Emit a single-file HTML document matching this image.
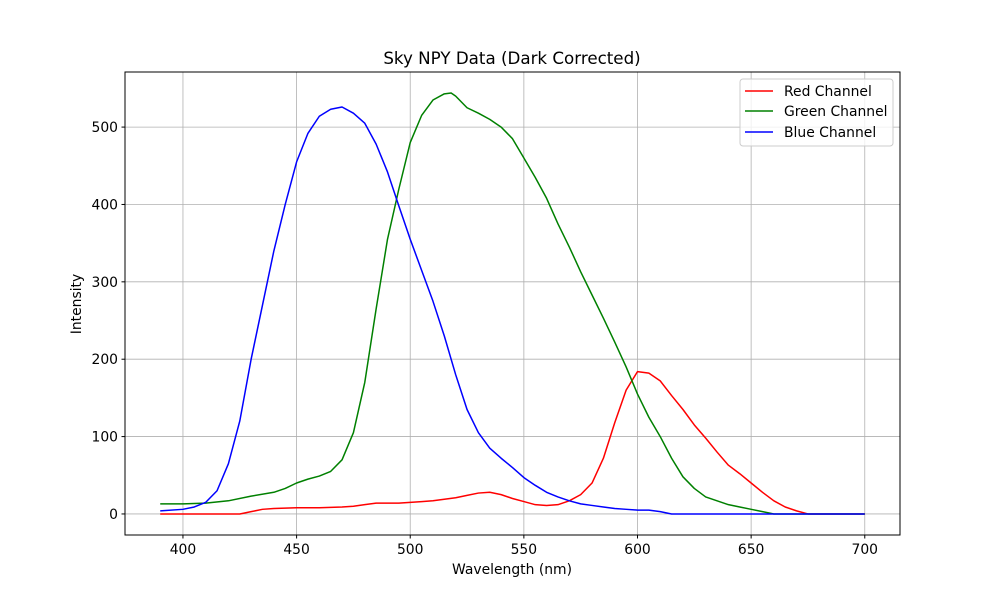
<!DOCTYPE html>
<html><head><meta charset="utf-8"><style>
body{margin:0;background:#fff;}
svg{display:block;font-family:"DejaVu Sans","Liberation Sans",sans-serif;}
</style></head><body>
<svg id="chart" width="1000" height="600">
<rect width="1000" height="600" fill="#fff"/>
<g id="grid"></g>
<g id="series"></g>
<rect x="125" y="72" width="775" height="463" fill="none" stroke="#000" stroke-width="1"/>
<g id="ticks"></g>
<text x="512" y="64" font-size="16.7" text-anchor="middle">Sky NPY Data (Dark Corrected)</text>
<text x="512" y="574" font-size="13.9" text-anchor="middle">Wavelength (nm)</text>
<text x="0" y="0" font-size="13.9" text-anchor="middle" transform="translate(81,304) rotate(-90)">Intensity</text>
<g>
<rect x="740" y="79" width="153" height="67" rx="3" fill="#fff" fill-opacity="0.8" stroke="#ccc"/>
<g><line x1="745" y1="91" x2="773" y2="91" stroke="#f00" stroke-width="1.5"/><text x="784" y="96" font-size="13.9">Red Channel</text></g>
<g><line x1="745" y1="111" x2="773" y2="111" stroke="#008000" stroke-width="1.5"/><text x="784" y="116" font-size="13.9">Green Channel</text></g>
<g><line x1="745" y1="132" x2="773" y2="132" stroke="#00f" stroke-width="1.5"/><text x="784" y="137" font-size="13.9">Blue Channel</text></g>
</g>
</svg>
<script>
const xTicks=[400,450,500,550,600,650,700];
const yTicks=[0,100,200,300,400,500];
const redX=[390,425,430,435,440,450,460,470,475,480,485,495,500,505,510,515,520,525,530,535,540,545,550,555,560,565,570,575,580,585,590,595,600,605,610,615,620,625,630,635,640,645,650,655,660,665,670,675,700];
const redY=[0,0,3,6,7,8,8,9,10,12,14,14,15,16,17,19,21,24,27,28,25,20,16,12,11,12,17,25,40,72,118,160,184,182,172,153,135,115,98,80,63,52,40,28,17,9,4,0,0];
const greenX=[390,400,410,420,430,440,445,450,455,460,465,470,475,480,485,490,495,500,505,510,515,518,520,525,530,535,540,545,550,555,560,565,570,575,580,585,590,595,600,605,610,615,620,625,630,635,640,645,650,655,660,700];
const greenY=[13,13,14,17,23,28,33,40,45,49,55,70,105,170,265,355,420,480,515,535,543,544,540,525,518,510,500,485,460,435,408,375,345,313,283,253,222,190,155,125,100,72,48,33,22,17,12,9,6,3,0,0];
const blueX=[390,400,405,410,415,420,425,430,435,440,445,450,455,460,465,470,475,480,485,490,495,500,505,510,515,520,525,530,535,540,545,550,555,560,565,570,575,580,585,590,595,600,605,610,615,620,700];
const blueY=[4,6,9,15,30,65,120,200,270,340,400,455,492,514,523,526,518,505,478,442,398,355,315,275,230,180,135,105,85,72,60,47,37,28,22,17,13,11,9,7,6,5,5,3,0,0,0];
const X0=374.5,X1=715.5,Y0=-27.2,Y1=571.2;
const sx=v=>125+(v-X0)/(X1-X0)*775;
const sy=v=>535-(v-Y0)/(Y1-Y0)*463;
const NS="http://www.w3.org/2000/svg";
const grid=document.getElementById('grid'),ticks=document.getElementById('ticks'),ser=document.getElementById('series');
function mk(tag,attrs,parent){const e=document.createElementNS(NS,tag);for(const k in attrs)e.setAttribute(k,attrs[k]);parent.appendChild(e);return e;}
xTicks.forEach(t=>{const x=sx(t);
const g=mk('line',{x1:x,x2:x,y1:72,y2:535,stroke:'#b0b0b0','stroke-width':0.8},grid);


mk('line',{x1:x,x2:x,y1:535,y2:538.5,stroke:'#000'},ticks);
const tx=mk('text',{x:x,y:554,'font-size':13.9,'text-anchor':'middle'},ticks);tx.textContent=t;

});
yTicks.forEach(t=>{const y=sy(t);
const g=mk('line',{x1:125,x2:900,y1:y,y2:y,stroke:'#b0b0b0','stroke-width':0.8},grid);


mk('line',{x1:121.5,x2:125,y1:y,y2:y,stroke:'#000'},ticks);
const tx=mk('text',{x:118,y:y+5,'font-size':13.9,'text-anchor':'end'},ticks);tx.textContent=t;

});
function line(xs,ys,color,name){const p=mk('polyline',{points:xs.map((x,i)=>sx(x)+','+sy(ys[i])).join(' '),fill:'none',stroke:color,'stroke-width':1.5,'stroke-linejoin':'round'},ser);

}
line(redX,redY,'#f00','red-channel-line');
line(greenX,greenY,'#008000','green-channel-line');
line(blueX,blueY,'#00f','blue-channel-line');
</script>
</body></html>
